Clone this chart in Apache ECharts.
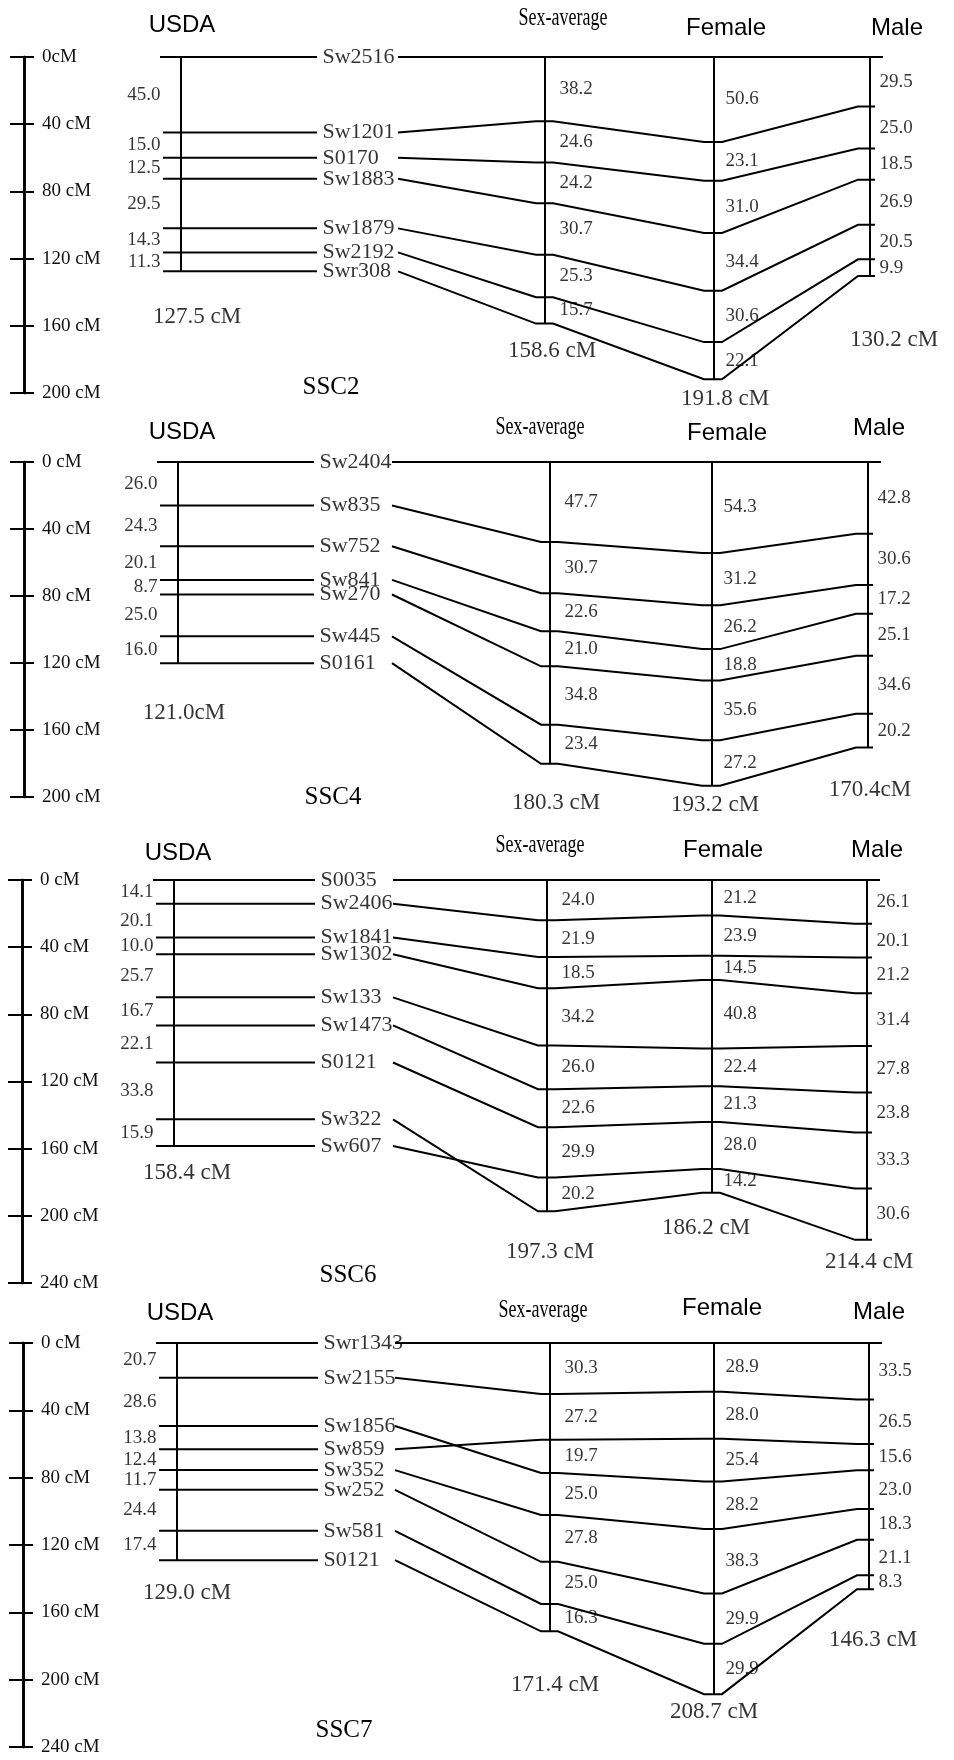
<!DOCTYPE html>
<html><head><meta charset="utf-8">
<script src="https://cdn.jsdelivr.net/npm/echarts@6/dist/echarts.min.js"></script>
<style>html,body{margin:0;padding:0;background:#fff}#c{width:954px;height:1760px}</style>
</head><body><div id="c"></div>
<script>
// ---------------- DATA ----------------
// SSC2
const ssc2Markers = ['Sw2516','Sw1201','S0170','Sw1883','Sw1879','Sw2192','Swr308']; // USDA order
const ssc2Usda    = [45.0,15.0,12.5,29.5,14.3,11.3];
const ssc2Link    = ['Sw2516','Sw1201','S0170','Sw1883','Sw1879','Sw2192','Swr308']; // linkage-map order
const ssc2Sex     = [38.2,24.6,24.2,30.7,25.3,15.7];
const ssc2Female  = [50.6,23.1,31.0,34.4,30.6,22.1];
const ssc2Male    = [29.5,25.0,18.5,26.9,20.5,9.9];
const ssc2Totals  = ['127.5 cM','158.6 cM','191.8 cM','130.2 cM'];
const ssc2Ticks   = ['0cM','40 cM','80 cM','120 cM','160 cM','200 cM'];
// SSC4
const ssc4Markers = ['Sw2404','Sw835','Sw752','Sw841','Sw270','Sw445','S0161'];
const ssc4Usda    = [26.0,24.3,20.1,8.7,25.0,16.0];
const ssc4Link    = ['Sw2404','Sw835','Sw752','Sw841','Sw270','Sw445','S0161'];
const ssc4Sex     = [47.7,30.7,22.6,21.0,34.8,23.4];
const ssc4Female  = [54.3,31.2,26.2,18.8,35.6,27.2];
const ssc4Male    = [42.8,30.6,17.2,25.1,34.6,20.2];
const ssc4Totals  = ['121.0cM','180.3 cM','193.2 cM','170.4cM'];
const ssc4Ticks   = ['0 cM','40 cM','80 cM','120 cM','160 cM','200 cM'];
// SSC6
const ssc6Markers = ['S0035','Sw2406','Sw1841','Sw1302','Sw133','Sw1473','S0121','Sw322','Sw607'];
const ssc6Usda    = [14.1,20.1,10.0,25.7,16.7,22.1,33.8,15.9];
const ssc6Link    = ['S0035','Sw2406','Sw1841','Sw1302','Sw133','Sw1473','S0121','Sw607','Sw322'];
const ssc6Sex     = [24.0,21.9,18.5,34.2,26.0,22.6,29.9,20.2];
const ssc6Female  = [21.2,23.9,14.5,40.8,22.4,21.3,28.0,14.2];
const ssc6Male    = [26.1,20.1,21.2,31.4,27.8,23.8,33.3,30.6];
const ssc6Totals  = ['158.4 cM','197.3 cM','186.2 cM','214.4 cM'];
const ssc6Ticks   = ['0 cM','40 cM','80 cM','120 cM','160 cM','200 cM','240 cM'];
// SSC7
const ssc7Markers = ['Swr1343','Sw2155','Sw1856','Sw859','Sw352','Sw252','Sw581','S0121'];
const ssc7Usda    = [20.7,28.6,13.8,12.4,11.7,24.4,17.4];
const ssc7Link    = ['Swr1343','Sw2155','Sw859','Sw1856','Sw352','Sw252','Sw581','S0121'];
const ssc7Sex     = [30.3,27.2,19.7,25.0,27.8,25.0,16.3];
const ssc7Female  = [28.9,28.0,25.4,28.2,38.3,29.9,29.9];
const ssc7Male    = [33.5,26.5,15.6,23.0,18.3,21.1,8.3];
const ssc7Totals  = ['129.0 cM','171.4 cM','208.7 cM','146.3 cM'];
const ssc7Ticks   = ['0 cM','40 cM','80 cM','120 cM','160 cM','200 cM','240 cM'];

const columnTitles = ['USDA','Sex-average','Female','Male'];

// ---------------- LAYOUT ----------------
const layouts = [
 {name:'SSC2', scaleX:24, y0:57,  y1:393,  max:200, usdaX:181, sexX:545, femX:714, maleX:870, labelX:322, slopeX:398,
  t:{usda:[182,25], sex:[563,18], fem:[726,28], male:[897,28], name:[331,387]}, tot:[[16,46],[7,27],[11,20],[24,64]]},
 {name:'SSC4', scaleX:24, y0:462, y1:797,  max:200, usdaX:178, sexX:550, femX:712, maleX:868, labelX:319, slopeX:392,
  t:{usda:[182,432], sex:[540,427], fem:[727,433], male:[879,428], name:[333,797]}, tot:[[6,50],[6,39],[3,19],[2,42]]},
 {name:'SSC6', scaleX:22, y0:880, y1:1283, max:240, usdaX:174, sexX:547, femX:712, maleX:867, labelX:320, slopeX:393,
  t:{usda:[178,853], sex:[540,845], fem:[723,850], male:[877,850], name:[348,1275]}, tot:[[13,27],[3,41],[-6,35],[2,22]]},
 {name:'SSC7', scaleX:23, y0:1343, y1:1747, max:240, usdaX:177, sexX:550, femX:714, maleX:869, labelX:323, slopeX:395,
  t:{usda:[180,1313], sex:[543,1310], fem:[722,1308], male:[879,1312], name:[344,1730]}, tot:[[10,33],[5,54],[0,18],[4,51]]}
];

const panels = [
 {markers:ssc2Markers, usda:ssc2Usda, link:ssc2Link, sex:ssc2Sex, fem:ssc2Female, male:ssc2Male, totals:ssc2Totals, ticks:ssc2Ticks},
 {markers:ssc4Markers, usda:ssc4Usda, link:ssc4Link, sex:ssc4Sex, fem:ssc4Female, male:ssc4Male, totals:ssc4Totals, ticks:ssc4Ticks},
 {markers:ssc6Markers, usda:ssc6Usda, link:ssc6Link, sex:ssc6Sex, fem:ssc6Female, male:ssc6Male, totals:ssc6Totals, ticks:ssc6Ticks},
 {markers:ssc7Markers, usda:ssc7Usda, link:ssc7Link, sex:ssc7Sex, fem:ssc7Female, male:ssc7Male, totals:ssc7Totals, ticks:ssc7Ticks}
];

const SERIF = '"Liberation Serif","Times New Roman",serif';
const SANS = '"Liberation Sans",Arial,sans-serif';

function cumPos(order, iv){
  const pos = {}; let acc = 0;
  order.forEach((m,i)=>{ if(i>0) acc += iv[i-1]; pos[m] = Math.round(acc*100)/100; });
  return pos;
}
function mids(order, pos){
  const out=[]; for(let i=0;i<order.length-1;i++) out.push((pos[order[i]]+pos[order[i+1]])/2); return out;
}

const grids=[], xAxes=[], yAxes=[], series=[], graphics=[];

panels.forEach((P,i)=>{
  const L = layouts[i];
  grids.push({left:L.scaleX, right:0, top:L.y0, height:L.y1-L.y0, containLabel:false, outerBoundsMode:'none'});
  xAxes.push({gridIndex:i, type:'value', min:L.scaleX, max:954, show:false});
  yAxes.push({gridIndex:i, type:'value', min:0, max:L.max, interval:40, inverse:true, position:'left',
    axisLine:{show:true, onZero:false, lineStyle:{color:'#000', width:2.6}},
    axisTick:{show:true, inside:false, length:14, lineStyle:{color:'#000', width:2}},
    axisLabel:{show:false}, splitLine:{show:false}});
  yAxes.push({gridIndex:i, type:'value', min:0, max:L.max, interval:40, inverse:true, position:'left',
    axisLine:{show:true, onZero:false, lineStyle:{color:'#000', width:2.6}},
    axisTick:{show:true, inside:true, length:10, lineStyle:{color:'#000', width:2}},
    axisLabel:{show:true, inside:true, margin:18, fontFamily:SERIF, fontSize:19, color:'#111',
      padding:[6,0,0,0], formatter:(v)=>P.ticks[Math.round(v/40)]},
    splitLine:{show:false}});
  const yi = 2*i;

  const uPos = cumPos(P.markers, P.usda);
  const sPos = cumPos(P.link, P.sex);
  const fPos = cumPos(P.link, P.fem);
  const mPos = cumPos(P.link, P.male);
  const uTot = uPos[P.markers[P.markers.length-1]];
  const last = P.link[P.link.length-1];
  const sTot = sPos[last], fTot = fPos[last], mTot = mPos[last];

  // lines: columns + marker connections
  const lineData = [
    {coords:[[L.usdaX,0],[L.usdaX,uTot]]},
    {coords:[[L.sexX,0],[L.sexX,sTot]]},
    {coords:[[L.femX,0],[L.femX,fTot]]},
    {coords:[[L.maleX,0],[L.maleX,mTot]]}
  ];
  P.markers.forEach((m,k)=>{
    const u=uPos[m], s=sPos[m], f=fPos[m], ml=mPos[m];
    lineData.push({coords:[[L.usdaX-(k===0?21:18),u],[L.labelX-5,u]]});
    lineData.push({coords:[[L.slopeX,u],[L.sexX-9,s],[L.sexX+8,s],[L.femX-10,f],[L.femX+8,f],[L.maleX-12,ml],[L.maleX+(k===0?13:5),ml]]});
  });
  // heavier 0 cM tick on the scale bar
  series.push({type:'lines', coordinateSystem:'cartesian2d', xAxisIndex:i, yAxisIndex:yi, polyline:true,
    silent:true, lineStyle:{color:'#000', width:2, opacity:1, cap:'butt', join:'miter'}, data:lineData, z:2});

  // marker names
  series.push({type:'scatter', xAxisIndex:i, yAxisIndex:yi, symbolSize:1, itemStyle:{color:'rgba(0,0,0,0)'}, silent:true, z:10,
    label:{show:true, position:'right', distance:0, formatter:'{b}', fontFamily:SERIF, fontSize:22, color:'#000'},
    data:P.markers.map(m=>({name:m, value:[L.labelX, uPos[m]]}))});

  // interval labels
  const ivData = [];
  const uM = mids(P.markers,uPos), sM = mids(P.link,sPos), fM = mids(P.link,fPos), mM = mids(P.link,mPos);
  P.usda.forEach((v,k)=>ivData.push({name:v.toFixed(1), value:[L.usdaX-20,uM[k]], label:{position:'left'}}));
  P.sex.forEach((v,k)=>ivData.push({name:v.toFixed(1), value:[L.sexX+14,sM[k]]}));
  P.fem.forEach((v,k)=>ivData.push({name:v.toFixed(1), value:[L.femX+11,fM[k]]}));
  P.male.forEach((v,k)=>ivData.push({name:v.toFixed(1), value:[L.maleX+9,mM[k]]}));
  series.push({type:'scatter', xAxisIndex:i, yAxisIndex:yi, symbolSize:1, itemStyle:{color:'rgba(0,0,0,0)'}, silent:true, z:9,
    label:{show:true, position:'right', distance:0, formatter:'{b}', fontFamily:SERIF, fontSize:19, color:'#000'},
    data:ivData});

  // totals
  const totPts = [[L.usdaX,uTot],[L.sexX,sTot],[L.femX,fTot],[L.maleX,mTot]];
  series.push({type:'scatter', xAxisIndex:i, yAxisIndex:yi, symbolSize:1, itemStyle:{color:'rgba(0,0,0,0)'}, silent:true, z:9,
    label:{show:true, position:'inside', formatter:'{b}', fontFamily:SERIF, fontSize:23, color:'#000'},
    data:totPts.map((p,k)=>({name:P.totals[k], value:p, label:{offset:L.tot[k]}}))});

  // titles
  const tt = [['usda',columnTitles[0],SANS,24,1],['sex',columnTitles[1],SERIF,18,1.45],['fem',columnTitles[2],SANS,24,1],['male',columnTitles[3],SANS,24,1]];
  tt.forEach(([key,txt,ff,fs,sy])=>{
    graphics.push({type:'text', x:L.t[key][0], y:L.t[key][1], scaleY:sy, silent:true,
      style:{text:txt, fontFamily:ff, fontSize:fs, fill:'#000', align:'center', verticalAlign:'middle', textAlign:'center', textVerticalAlign:'middle'}});
  });
  graphics.push({type:'text', x:L.t.name[0], y:L.t.name[1], silent:true,
    style:{text:L.name, fontFamily:SERIF, fontSize:25, fill:'#000', align:'center', verticalAlign:'middle', textAlign:'center', textVerticalAlign:'middle'}});
});

const chart = echarts.init(document.getElementById('c'), null, {renderer:'canvas', width:954, height:1760});
chart.setOption({
  backgroundColor:'#fff',
  animation:false,
  grid:grids, xAxis:xAxes, yAxis:yAxes, series:series, graphic:graphics
});
</script></body></html>
